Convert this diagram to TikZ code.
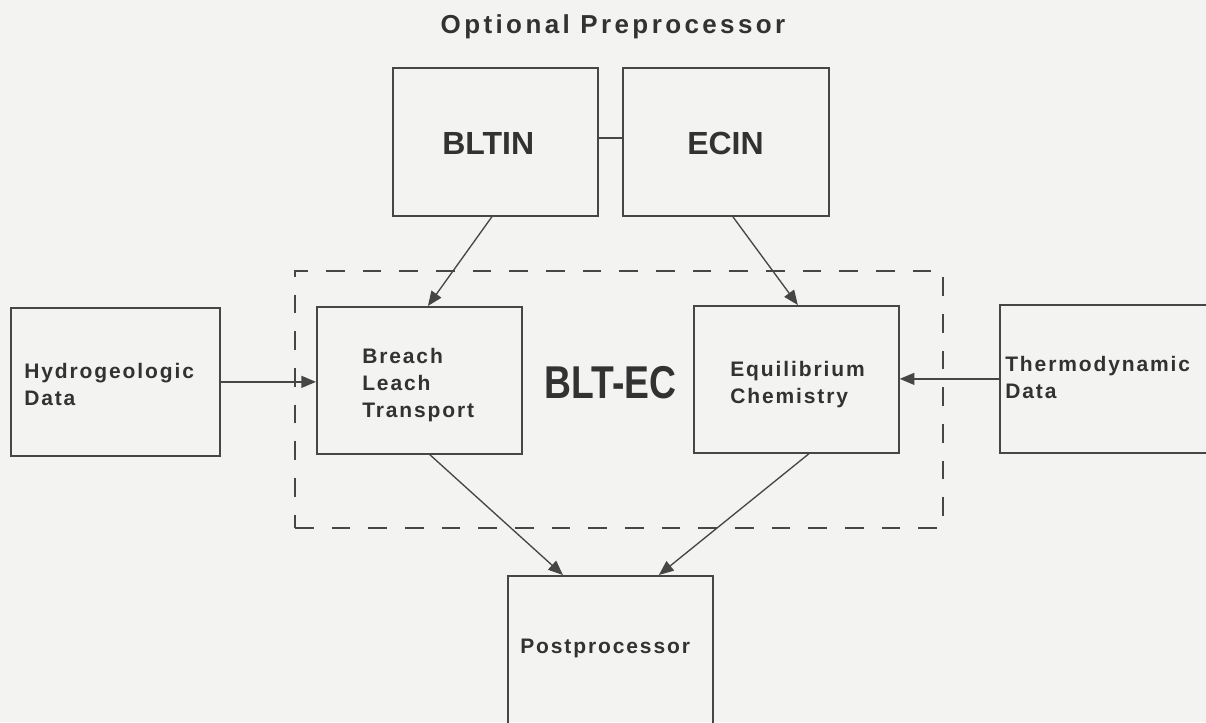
\documentclass[tikz,border=0pt]{standalone}
\usepackage{fontspec}
\setmainfont{Liberation Sans}
\newfontfamily\labfont[LetterSpace=9]{Liberation Sans}
\newfontfamily\titlefont[LetterSpace=13]{Liberation Sans}
\usetikzlibrary{arrows.meta,calc}
\definecolor{paper}{RGB}{243,243,241}
\definecolor{ink}{RGB}{50,50,50}
\definecolor{rule}{RGB}{70,70,70}
\begin{document}
\begin{tikzpicture}[x=0.75pt,y=-0.75pt,
  box/.style={draw=rule,line width=1.3pt,rectangle,inner sep=0pt,anchor=north west},
  lab/.style={font=\labfont\bfseries\fontsize{15.75}{20}\selectfont,text=ink,align=left,inner sep=0pt,anchor=base west},
  big/.style={font=\bfseries\fontsize{24}{28}\selectfont,text=ink,inner sep=0pt,anchor=base west},
  arr/.style={draw=rule,line width=1pt,-{Triangle[length=11pt,width=9pt]}},
  link/.style={draw=rule,line width=1pt},
]
\fill[paper] (0,0) rectangle (1206,722);
\useasboundingbox (0,0) rectangle (1206,722);

% title
\node[font=\titlefont\bfseries\fontsize{19.5}{22}\selectfont,text=ink,anchor=base,inner sep=0pt] (title) at (613,33) {Optional Preprocessor};

% preprocessor boxes
\node[box,minimum width=153.75pt,minimum height=111pt] (bltin) at (392,67) {};
\node[box,minimum width=154.5pt,minimum height=111pt] (ecin) at (622,67) {};
\node[big] (bltinlab) at (442,154) {BLTIN};
\node[big] (ecinlab) at (687,154) {ECIN};

% code boundary
\node[box,dash pattern=on 14pt off 13.5pt,minimum width=486pt,minimum height=192.75pt] (core) at (294,270) {};

% code modules
\node[box,minimum width=153.75pt,minimum height=110.25pt] (blt) at (316,306) {};
\node[box,minimum width=153.75pt,minimum height=110.25pt] (eq) at (693,305) {};
\node[lab] (bltlab) at (362,417) {Breach\\Leach\\Transport};
\node[lab] (eqlab) at (730,403) {Equilibrium\\Chemistry};
\node[font=\bfseries\fontsize{34.5}{40}\selectfont,text=ink,anchor=base,inner sep=0pt] (corelab) at (610.5,398) {\scalebox{0.81}[1]{BLT-EC}};

% data inputs
\node[box,minimum width=156.75pt,minimum height=111pt] (hydro) at (10,307) {};
\node[box,minimum width=162pt,minimum height=111pt] (thermo) at (999,304) {};
\node[lab] (hydrolab) at (24,405) {Hydrogeologic\\Data};
\node[lab] (thermolab) at (1005,398) {Thermodynamic\\Data};

% output
\node[box,minimum width=153.75pt,minimum height=116pt] (post) at (507,575) {};
\node[lab] (postlab) at (520,653) {Postprocessor};

% connectors
\draw[link] ([yshift=3pt]bltin.east) -- ([yshift=3pt]bltin.east -| ecin.west);
\draw[arr] ([xshift=-2.6pt]bltin.south) -- ([xshift=6.4pt]blt.north);
\draw[arr] ([xshift=5.25pt]ecin.south) -- ([xshift=1.1pt]eq.north);
\draw[arr] (hydro.east) -- (hydro.east -| blt.west);
\draw[arr] (thermo.west) -- (thermo.west -| eq.east);
\draw[arr] ([xshift=7.9pt]blt.south) -- ([xshift=-35.6pt]post.north);
\draw[arr] ([xshift=9.4pt]eq.south) -- ([xshift=36.4pt]post.north);
\end{tikzpicture}
\end{document}
